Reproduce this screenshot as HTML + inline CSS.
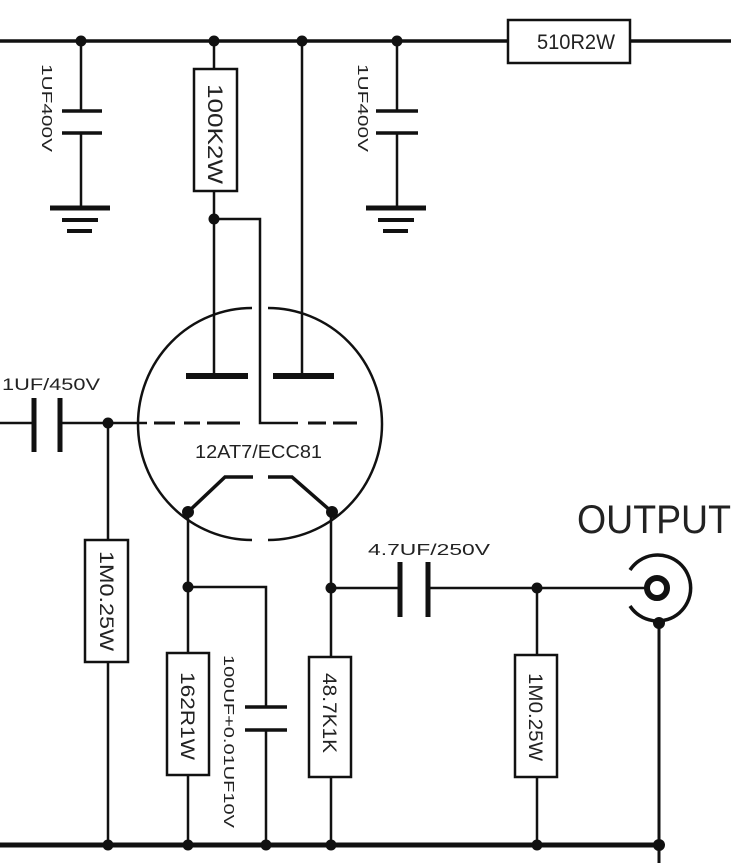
<!DOCTYPE html>
<html><head><meta charset="utf-8"><style>
html,body{margin:0;padding:0;background:#fff;}
svg{display:block;}
text{font-family:"Liberation Sans",sans-serif;fill:#222;}
</style></head><body>
<svg width="731" height="863" viewBox="0 0 731 863" xmlns="http://www.w3.org/2000/svg">
<g stroke="#111" fill="none" stroke-width="2.5">
<line x1="0" y1="41" x2="508" y2="41" stroke-width="3.5"/>
<line x1="630" y1="41" x2="731" y2="41" stroke-width="3.5"/>
<rect x="508" y="20" width="122" height="43" stroke-width="2.5"/>
<line x1="81" y1="41" x2="81" y2="111"/>
<line x1="62" y1="111" x2="102" y2="111" stroke-width="3.5"/>
<line x1="62" y1="133" x2="102" y2="133" stroke-width="3.5"/>
<line x1="81" y1="133" x2="81" y2="208"/>
<line x1="50" y1="208" x2="110" y2="208" stroke-width="5"/>
<line x1="62" y1="220" x2="98" y2="220" stroke-width="4"/>
<line x1="67" y1="231" x2="92" y2="231" stroke-width="4"/>
<line x1="397" y1="41" x2="397" y2="111"/>
<line x1="376" y1="111" x2="418" y2="111" stroke-width="3.5"/>
<line x1="376" y1="133" x2="418" y2="133" stroke-width="3.5"/>
<line x1="397" y1="133" x2="397" y2="208"/>
<line x1="366" y1="208" x2="426" y2="208" stroke-width="5"/>
<line x1="378" y1="220" x2="414" y2="220" stroke-width="4"/>
<line x1="383" y1="231" x2="408" y2="231" stroke-width="4"/>
<line x1="214" y1="41" x2="214" y2="69"/>
<rect x="194" y="69" width="43" height="122"/>
<line x1="214" y1="191" x2="214" y2="375"/>
<polyline points="214,219 260,219 260,423 298,423"/>
<line x1="302" y1="41" x2="302" y2="375"/>
<path d="M252,308 A114,116 0 0 0 252,540" />
<path d="M268,308 A114,116 0 0 1 268,540" />
<line x1="186" y1="376" x2="248" y2="376" stroke-width="6"/>
<line x1="273" y1="376" x2="334" y2="376" stroke-width="6"/>
<line x1="154" y1="423" x2="175" y2="423" stroke-width="3"/>
<line x1="184" y1="423" x2="200" y2="423" stroke-width="3"/>
<line x1="207" y1="423" x2="240" y2="423" stroke-width="3"/>
<line x1="308" y1="423" x2="326" y2="423" stroke-width="3"/>
<line x1="333" y1="423" x2="357" y2="423" stroke-width="3"/>
<polyline points="188,512 225,477 253,477" stroke-width="3.5"/>
<polyline points="268,477 292,477 332,512" stroke-width="3.5"/>
<line x1="0" y1="423" x2="34" y2="423"/>
<line x1="34" y1="398" x2="34" y2="452" stroke-width="5"/>
<line x1="60" y1="398" x2="60" y2="452" stroke-width="5"/>
<line x1="60" y1="423" x2="147" y2="423"/>
<line x1="108" y1="423" x2="108" y2="540"/>
<rect x="85" y="540" width="43" height="122"/>
<line x1="108" y1="662" x2="108" y2="845"/>
<line x1="188" y1="512" x2="188" y2="653"/>
<rect x="167" y="653" width="42" height="122"/>
<line x1="188" y1="775" x2="188" y2="845"/>
<polyline points="188,587 266,587 266,707"/>
<line x1="245" y1="707" x2="287" y2="707" stroke-width="3.5"/>
<line x1="245" y1="730" x2="287" y2="730" stroke-width="3.5"/>
<line x1="266" y1="730" x2="266" y2="845"/>
<line x1="331" y1="512" x2="331" y2="657"/>
<rect x="309" y="657" width="42" height="120"/>
<line x1="331" y1="777" x2="331" y2="845"/>
<line x1="331" y1="588" x2="400" y2="588"/>
<line x1="400" y1="562" x2="400" y2="617" stroke-width="5"/>
<line x1="428" y1="562" x2="428" y2="617" stroke-width="5"/>
<line x1="428" y1="588" x2="645" y2="588"/>
<line x1="537" y1="588" x2="537" y2="655"/>
<rect x="515" y="655" width="42" height="122"/>
<line x1="537" y1="777" x2="537" y2="845"/>
<circle cx="657" cy="588" r="10" stroke-width="6"/>
<path d="M630,570 A33,33 0 1 1 630,606" stroke-width="3.5"/>
<line x1="659" y1="623" x2="659" y2="863" stroke-width="3"/>
<line x1="0" y1="845" x2="662" y2="845" stroke-width="5"/>
</g>
<g fill="#111">
<circle cx="81" cy="41" r="5.5"/><circle cx="214" cy="41" r="5.5"/><circle cx="302" cy="41" r="5.5"/><circle cx="397" cy="41" r="5.5"/>
<circle cx="214" cy="219" r="5.5"/>
<circle cx="108" cy="423" r="5.5"/>
<circle cx="188" cy="512" r="6"/><circle cx="332" cy="512" r="6"/>
<circle cx="188" cy="587" r="5.5"/><circle cx="331" cy="588" r="5.5"/><circle cx="537" cy="588" r="5.5"/>
<circle cx="659" cy="623" r="6"/>
<circle cx="108" cy="845" r="5.5"/><circle cx="188" cy="845" r="5.5"/><circle cx="266" cy="845" r="5.5"/><circle cx="331" cy="845" r="5.5"/><circle cx="537" cy="845" r="5.5"/><circle cx="659" cy="845" r="6"/>
</g>
<text x="537" y="49" font-size="21" textLength="78" lengthAdjust="spacingAndGlyphs">510R2W</text>
<text transform="translate(208,84) rotate(90)" font-size="21" textLength="100" lengthAdjust="spacingAndGlyphs">100K2W</text>
<text transform="translate(42,64) rotate(90)" font-size="15" textLength="88" lengthAdjust="spacingAndGlyphs">1UF400V</text>
<text transform="translate(358,64) rotate(90)" font-size="15" textLength="88" lengthAdjust="spacingAndGlyphs">1UF400V</text>
<text x="2" y="390" font-size="17" textLength="98" lengthAdjust="spacingAndGlyphs">1UF/450V</text>
<text x="195" y="458" font-size="18" textLength="127" lengthAdjust="spacingAndGlyphs">12AT7/ECC81</text>
<text x="368" y="555" font-size="16" textLength="122" lengthAdjust="spacingAndGlyphs">4.7UF/250V</text>
<text x="577" y="533" font-size="40" textLength="154" lengthAdjust="spacingAndGlyphs">OUTPUT</text>
<text transform="translate(100,551) rotate(90)" font-size="19" textLength="100" lengthAdjust="spacingAndGlyphs">1M0.25W</text>
<text transform="translate(181,672) rotate(90)" font-size="19" textLength="88" lengthAdjust="spacingAndGlyphs">162R1W</text>
<text transform="translate(323,673) rotate(90)" font-size="19" textLength="80" lengthAdjust="spacingAndGlyphs">48.7K1K</text>
<text transform="translate(529,673) rotate(90)" font-size="19" textLength="88" lengthAdjust="spacingAndGlyphs">1M0.25W</text>
<text transform="translate(224,655) rotate(90)" font-size="15" textLength="173" lengthAdjust="spacingAndGlyphs">100UF+0.01UF10V</text>
</svg>
</body></html>
